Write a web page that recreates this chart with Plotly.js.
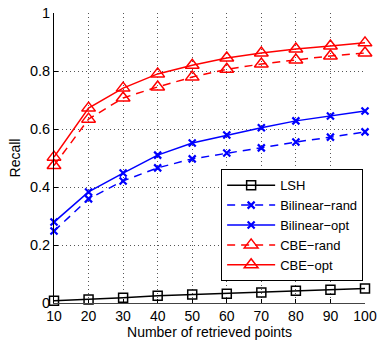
<!DOCTYPE html>
<html><head><meta charset="utf-8">
<script src="https://cdn.plot.ly/plotly-3.0.1.min.js"></script>
<style>html,body{margin:0;padding:0;background:#fff}#c{width:378px;height:340px}</style>
</head><body><div id="c"></div>
<script>
const points = [10,20,30,40,50,60,70,80,90,100];
const lsh = [0.008,0.012,0.018,0.025,0.029,0.032,0.036,0.042,0.046,0.05];
const bilinearRand = [0.248,0.359,0.421,0.466,0.497,0.517,0.535,0.555,0.572,0.59];
const bilinearOpt = [0.279,0.383,0.448,0.51,0.552,0.579,0.604,0.628,0.645,0.662];
const cbeRand = [0.474,0.634,0.707,0.745,0.779,0.806,0.824,0.838,0.852,0.862];
const cbeOpt = [0.503,0.672,0.741,0.79,0.82,0.845,0.862,0.876,0.886,0.897];
const xTicks = [10,20,30,40,50,60,70,80,90,100];
const xTickText = ['10','20','30','40','50','60','70','80','90','100'];
const yTicks = [0,0.2,0.4,0.6,0.8,1];
const yTickText = ['0','0.2','0.4','0.6','0.8','1'];

const traces = [
 {name:'LSH', y:lsh, line:{color:'black',width:1.5,dash:'solid'}, marker:{symbol:'square-open',size:9,color:'black',line:{width:1.5}}},
 {name:'Bilinear\u2212rand', y:bilinearRand, line:{color:'blue',width:1.5,dash:'8px,6px'}, marker:{symbol:'x-thin-open',size:7,color:'blue',line:{width:2.2,color:'blue'}}},
 {name:'Bilinear\u2212opt', y:bilinearOpt, line:{color:'blue',width:1.5,dash:'solid'}, marker:{symbol:'x-thin-open',size:7,color:'blue',line:{width:2.2,color:'blue'}}},
 {name:'CBE\u2212rand', y:cbeRand, line:{color:'red',width:1.5,dash:'8px,6px'}, marker:{symbol:'triangle-up-open',size:12,color:'red',line:{width:1.5}}},
 {name:'CBE\u2212opt', y:cbeOpt, line:{color:'red',width:1.5,dash:'solid'}, marker:{symbol:'triangle-up-open',size:12,color:'red',line:{width:1.5}}}
].map(t => Object.assign({x:points, type:'scatter', mode:'lines+markers', cliponaxis:false}, t));

const font = {family:'Liberation Sans, Arial, sans-serif', color:'black'};
const layout = {
 width:378, height:340,
 margin:{l:54, r:13, t:13, b:37},
 paper_bgcolor:'white', plot_bgcolor:'white',
 font:Object.assign({size:14}, font),
 showlegend:true,
 legend:{x:0.994, y:0.075, xanchor:'right', yanchor:'bottom', bgcolor:'white', bordercolor:'black', borderwidth:1, font:Object.assign({size:13}, font), tracegroupgap:0, itemwidth:48},
 xaxis:{range:[10,100], tickvals:xTicks, ticktext:xTickText, ticks:'inside', ticklen:4, tickcolor:'black',
   showline:true, linecolor:'#444', linewidth:1, mirror:false, zeroline:false,
   showgrid:true, gridcolor:'#555', griddash:'1px,3px', gridwidth:1,
   tickfont:Object.assign({size:14}, font),
   title:{text:'Number of retrieved points', font:Object.assign({size:14}, font), standoff:10}},
 yaxis:{range:[0,1], tickvals:yTicks, ticktext:yTickText, ticks:'inside', ticklen:4, tickcolor:'black',
   showline:true, linecolor:'black', linewidth:1, mirror:false, zeroline:false,
   showgrid:true, gridcolor:'#555', griddash:'1px,3px', gridwidth:1,
   tickfont:Object.assign({size:14.5}, font),
   title:{text:'Recall', font:Object.assign({size:14}, font), standoff:6}}
};
Plotly.newPlot('c', traces, layout, {displayModeBar:false, staticPlot:true});
</script></body></html>
